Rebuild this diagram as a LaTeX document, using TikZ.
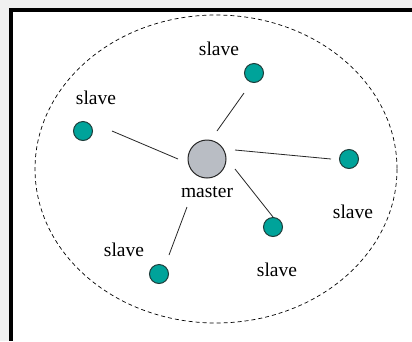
\documentclass[tikz,border=0pt]{standalone}
\usepackage{fontspec}
\setmainfont{Liberation Serif}
\definecolor{bggray}{HTML}{F0F0F0}
\definecolor{tealfill}{HTML}{00A39A}
\definecolor{tealline}{HTML}{1E3C3A}
\definecolor{mastergray}{HTML}{B9BDC4}
\begin{document}
\begin{tikzpicture}[x=1pt,y=-1pt,
  slavenode/.style={circle,draw=tealline,fill=tealfill,line width=1pt,minimum size=19pt,inner sep=0pt},
  masternode/.style={circle,draw=black!85,fill=mastergray,line width=1pt,minimum size=38pt,inner sep=0pt},
  lbl/.style={inner sep=0pt,font=\fontsize{19.5}{20}\selectfont},
  link/.style={line width=0.8pt,draw=black!85}]
\useasboundingbox (0,0) rectangle (412,341);
\fill[bggray] (0,0) rectangle (412,341);
\fill[white] (9,8) rectangle (412,341);
\fill[black] (9,8) rectangle (13,341);
\fill[black] (9,8) rectangle (412,12);
\draw[dash pattern=on 4pt off 3pt,line width=0.7pt] (216,169) ellipse [x radius=181,y radius=154];
\node[masternode] (m) at (207,159) {};
\node[slavenode] (s1) at (254,73) {};
\node[slavenode] (s2) at (83,131) {};
\node[slavenode] (s3) at (349,159) {};
\node[slavenode] (s4) at (273,227) {};
\node[slavenode] (s5) at (159,274) {};
\node[lbl] (lm) at (207,192) {master};
\node[lbl] (l1) at (219,49) {slave};
\node[lbl] (l2) at (96,98) {slave};
\node[lbl] (l3) at (353,212) {slave};
\node[lbl] (l4) at (277,270) {slave};
\node[lbl] (l5) at (124,250) {slave};
\coordinate (a1) at (217,131); \coordinate (b1) at (244,93);
\coordinate (a2) at (178,159); \coordinate (b2) at (112,131);
\coordinate (a3) at (235,150); \coordinate (b3) at (331,159);
\coordinate (a4) at (235,169); \coordinate (b4) at (273,217);
\coordinate (a5) at (187,207); \coordinate (b5) at (169,255);
\draw[link] (a1) -- (b1);
\draw[link] (a2) -- (b2);
\draw[link] (a3) -- (b3);
\draw[link] (a4) -- (b4);
\draw[link] (a5) -- (b5);
\end{tikzpicture}
\end{document}
